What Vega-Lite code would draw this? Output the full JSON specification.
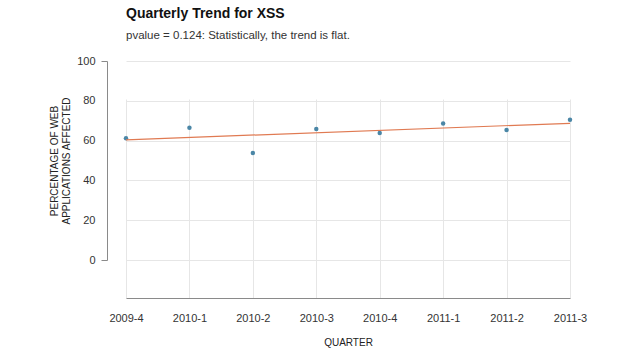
{
  "$schema": "https://vega.github.io/schema/vega-lite/v6.json",
  "autosize": {"type": "none"},
  "width": 444,
  "height": 237,
  "padding": {"left": 126, "top": 61, "right": 70, "bottom": 52},
  "background": "white",
  "config": {"view": {"stroke": null}, "font": "Liberation Sans"},
  "title": {
    "text": "Quarterly Trend for XSS",
    "subtitle": "pvalue = 0.124: Statistically, the trend is flat.",
    "anchor": "start",
    "frame": "group",
    "font": "Liberation Sans",
    "fontSize": 14,
    "fontWeight": "bold",
    "color": "#111111",
    "subtitleFont": "Liberation Sans",
    "subtitleFontSize": 11.5,
    "subtitleColor": "#333333",
    "subtitlePadding": 9,
    "offset": 14
  },
  "datasets": {
    "points": [
      {"quarter": "2009-4", "pct": 61.2},
      {"quarter": "2010-1", "pct": 66.5},
      {"quarter": "2010-2", "pct": 53.8},
      {"quarter": "2010-3", "pct": 65.8},
      {"quarter": "2010-4", "pct": 63.8},
      {"quarter": "2011-1", "pct": 68.6},
      {"quarter": "2011-2", "pct": 65.3},
      {"quarter": "2011-3", "pct": 70.5}
    ],
    "trend": [
      {"quarter": "2009-4", "trend": 60.4},
      {"quarter": "2011-3", "trend": 68.7}
    ]
  },
  "resolve": {"axis": {"y": "independent"}},
  "layer": [
    {
      "data": {"name": "points"},
      "mark": {"type": "point", "filled": true, "size": 20, "color": "#4a86a6", "opacity": 1},
      "encoding": {
        "x": {
          "field": "quarter",
          "type": "ordinal",
          "scale": {"type": "point", "padding": 0, "domain": ["2009-4", "2010-1", "2010-2", "2010-3", "2010-4", "2011-1", "2011-2", "2011-3"]},
          "axis": {
            "orient": "bottom",
            "title": "QUARTER",
            "labelAngle": 0,
            "labelAlign": "center",
            "grid": true,
            "gridColor": "#e6e6e6",
            "ticks": false,
            "tickSize": 0,
            "domainColor": "#8a8a8a",
            "labelFontSize": 11,
            "labelColor": "#333333",
            "labelPadding": 14,
            "titleFontSize": 10,
            "titleFontWeight": "normal",
            "titleColor": "#222222",
            "titlePadding": 14
          }
        },
        "y": {
          "field": "pct",
          "type": "quantitative",
          "scale": {"domain": [0, 100], "range": [199, 0]},
          "axis": {
            "orient": "left",
            "title": ["PERCENTAGE OF WEB", "APPLICATIONS AFFECTED"],
            "values": [0, 20, 40, 60, 80, 100],
            "offset": 19,
            "ticks": false,
            "grid": true,
            "gridColor": "#e6e6e6",
            "domainColor": "#8a8a8a",
            "labelFontSize": 11,
            "labelColor": "#333333",
            "labelPadding": 12,
            "titleFontSize": 10,
            "titleFontWeight": "normal",
            "titleColor": "#222222",
            "titlePadding": 5
          }
        }
      }
    },
    {
      "data": {"name": "trend"},
      "mark": {"type": "line", "color": "#e07a52", "strokeWidth": 1.2},
      "encoding": {
        "x": {"field": "quarter", "type": "ordinal"},
        "y": {
          "field": "trend",
          "type": "quantitative",
          "axis": {"orient": "left", "values": [0, 100], "labels": false, "ticks": true, "tickSize": 6, "tickColor": "#8a8a8a", "domain": false, "grid": false, "title": null, "offset": 19}
        }
      }
    }
  ]
}
